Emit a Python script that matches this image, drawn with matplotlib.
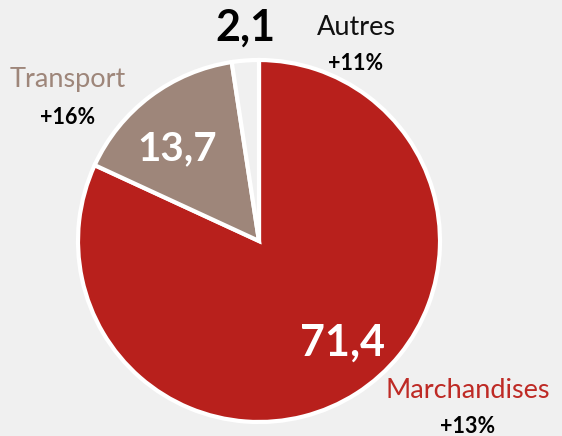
import matplotlib
matplotlib.use("Agg")
import matplotlib.pyplot as plt

categories = ["Marchandises", "Transport", "Autres"]
values = [71.4, 13.7, 2.1]
value_labels = ["71,4", "13,7", "2,1"]
growth = ["+13%", "+16%", "+11%"]

colors = ["#B8201C", "#9E867A", "#F0F0F0"]
name_colors = ["#BE2A25", "#9E867A", "#111111"]

W, H = 562, 436
fig = plt.figure(figsize=(W / 100, H / 100), dpi=100, facecolor="#F0F0F0")
ax = fig.add_axes([0, 0, 1, 1])
ax.set_facecolor("#F0F0F0")
ax.set_xlim(0, W)
ax.set_ylim(0, H)
ax.set_aspect("equal")
ax.axis("off")

cx, cy, r = 259, H - 241, 181
ax.pie(values, colors=colors, startangle=90, counterclock=False,
       center=(cx, cy), radius=r,
       wedgeprops=dict(edgecolor="white", linewidth=3))
ax.set_xlim(0, W)
ax.set_ylim(0, H)

fam = ["Lato", "DejaVu Sans"]
# value labels
ax.text(342, H - 343, value_labels[0], color="white", fontsize=31, fontweight="bold",
        ha="center", va="center", family=fam)
ax.text(177, H - 149, value_labels[1], color="white", fontsize=29, fontweight="bold",
        ha="center", va="center", family=fam)
ax.text(245, H - 28, value_labels[2], color="black", fontsize=31, fontweight="bold",
        ha="center", va="center", family=fam)

# category names and growth
name_pos = [(468, 391), (68, 80), (356, 28)]
growth_pos = [(468, 426), (68, 117), (356, 63)]
for i in range(3):
    x, y = name_pos[i]
    ax.text(x, H - y, categories[i], color=name_colors[i], fontsize=19.5,
            ha="center", va="center", family=fam, fontweight="normal")
    x, y = growth_pos[i]
    ax.text(x, H - y, growth[i], color="black", fontsize=15.5, fontweight="bold",
            ha="center", va="center", family=fam)

fig.savefig("out.png", dpi=100, facecolor=fig.get_facecolor())
